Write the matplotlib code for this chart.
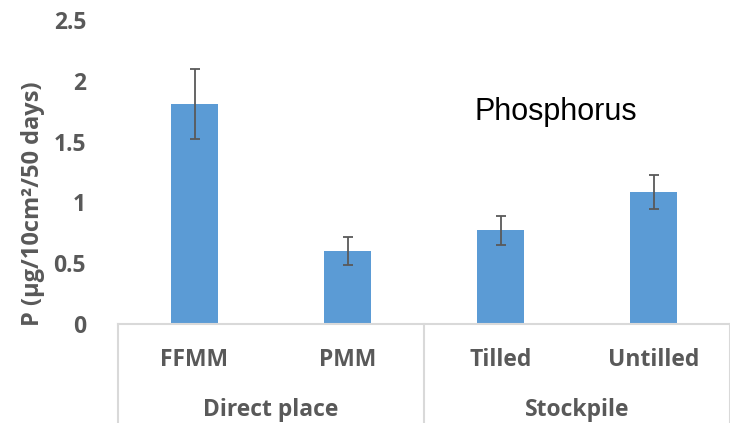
import numpy as np
import matplotlib.pyplot as plt
from matplotlib.transforms import blended_transform_factory

categories = ["FFMM", "PMM", "Tilled", "Untilled"]
groups = ["Direct place", "Stockpile"]
group_sizes = [2, 2]
values = [1.81, 0.60, 0.77, 1.085]
errors = [0.285, 0.115, 0.12, 0.14]

bar_color = "#5B9BD5"
text_color = "#595959"
line_color = "#D9D9D9"
font = ["Open Sans", "DejaVu Sans"]
fs = 16.5

fig = plt.figure(figsize=(7.30, 4.23), dpi=100)
ax = fig.add_axes([118 / 730, 99 / 423, 612 / 730, 304 / 423])

x = np.arange(len(categories))
ax.bar(x, values, width=0.31, color=bar_color, zorder=2)
ax.errorbar(x, values, yerr=errors, fmt="none", ecolor=text_color,
            elinewidth=1.3, capsize=3.5, capthick=1.3, zorder=3)

ax.set_xlim(-0.5, len(categories) - 0.5)
ax.set_ylim(0, 2.5)
ax.set_yticks([0, 0.5, 1, 1.5, 2, 2.5])
ax.set_yticklabels(["0", "0.5", "1", "1.5", "2", "2.5"])
ax.tick_params(axis="y", length=0, pad=23, labelsize=fs, labelcolor=text_color)
for lbl in ax.get_yticklabels():
    lbl.set_fontfamily(font)
    lbl.set_fontweight("bold")
ax.set_xticks([])

for side in ["top", "right", "left"]:
    ax.spines[side].set_visible(False)
ax.spines["bottom"].set_color(line_color)
ax.spines["bottom"].set_linewidth(1.5)

# category labels and group labels below the axis
trans = blended_transform_factory(ax.transData, ax.transAxes)
px = 1 / 304  # one pixel in axes height
for xi, name in zip(x, categories):
    ax.text(xi, -36 * px, name, transform=trans, ha="center", va="center",
            fontsize=fs, fontweight="bold", color=text_color, family=font)

start = 0
bounds = [-0.5]
for g, n in zip(groups, group_sizes):
    center = start + (n - 1) / 2
    ax.text(center, -92 * px, g, transform=trans, ha="center", va="baseline",
            fontsize=fs, fontweight="bold", color=text_color, family=font)
    start += n
    bounds.append(start - 0.5)

for b in bounds:
    ax.plot([b, b], [0, -110 * px], transform=trans, color=line_color,
            lw=1.5, clip_on=False)

ax.text(2.36, 1.74, "Phosphorus", fontsize=22, color="black",
        family=["Liberation Sans", "DejaVu Sans"], va="center", ha="center")

fig.text(33 / 730, 1 - 204 / 423, "P (µg/10cm²/50 days)", rotation=90,
         ha="center", va="center", fontsize=17, fontweight="bold",
         color=text_color, family=font)

fig.savefig("out.png", dpi=100)
